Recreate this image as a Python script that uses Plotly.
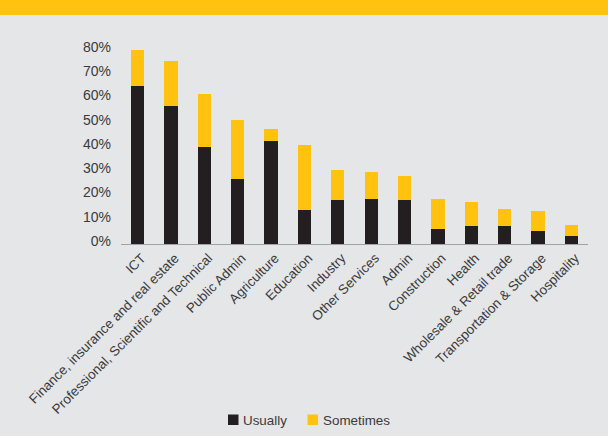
import plotly.graph_objects as go

# Share of workers in each sector, usually vs sometimes (percent)
sectors = [
    "ICT",
    "Finance, insurance and real estate",
    "Professional, Scientific and Technical",
    "Public Admin",
    "Agriculture",
    "Education",
    "Industry",
    "Other Services",
    "Admin",
    "Construction",
    "Health",
    "Wholesale & Retail trade",
    "Transportation & Storage",
    "Hospitality",
]
usually = [65, 57, 40, 27, 42.5, 14, 18, 18.5, 18, 6, 7.5, 7.5, 5.5, 3.5]
sometimes = [15, 18.5, 22, 24, 5, 27, 12.5, 11, 10, 12.5, 10, 7, 8, 4.5]
y_ticks = [0, 10, 20, 30, 40, 50, 60, 70, 80]

BLACK = "#231F20"
YELLOW = "#FFC20E"
BG = "#E5E6E8"
TEXT = "#3A3A3A"
FONT = "Liberation Sans, Arial, sans-serif"

W, H = 608, 436
M_L, M_R, M_T, M_B = 121, 20, 37, 192
PW = W - M_L - M_R
PH = H - M_T - M_B


def px(x):
    return (x - M_L) / PW


def py(y):
    return (H - M_B - y) / PH


fig = go.Figure()
fig.add_trace(go.Bar(x=sectors, y=usually, name="Usually",
                     marker=dict(color=BLACK, line=dict(width=0)), width=0.4))
fig.add_trace(go.Bar(x=sectors, y=sometimes, name="Sometimes",
                     marker=dict(color=YELLOW, line=dict(width=0)), width=0.4))

# header band
fig.add_shape(type="rect", xref="paper", yref="paper",
              x0=px(-5), x1=px(W + 5), y0=py(15), y1=py(-5),
              fillcolor=YELLOW, line=dict(width=0), layer="below")

# legend keys
legend_items = [("Usually", BLACK, 228), ("Sometimes", YELLOW, 307.5)]
for label, color, left in legend_items:
    fig.add_shape(type="rect", xref="paper", yref="paper",
                  x0=px(left), x1=px(left + 10.5), y0=py(425), y1=py(414.5),
                  fillcolor=color, line=dict(width=0))
    fig.add_annotation(text=label, xref="paper", yref="paper",
                       x=px(left + 14), y=py(420), xanchor="left", yanchor="middle",
                       xshift=-1, showarrow=False,
                       font=dict(family=FONT, size=13.4, color=TEXT))

fig.update_layout(
    barmode="stack",
    width=W, height=H,
    margin=dict(l=M_L, r=M_R, t=M_T, b=M_B, autoexpand=False),
    paper_bgcolor=BG, plot_bgcolor=BG,
    showlegend=False,
    font=dict(family=FONT, color=TEXT),
    xaxis=dict(
        range=[-0.5, len(sectors) - 0.5],
        showline=True, linecolor="#A3A3A5", linewidth=1,
        ticks="", tickangle=-45,
        tickfont=dict(family=FONT, size=13.4, color=TEXT),
        showgrid=False, zeroline=False,
        ticklabelshift=4,
    ),
    yaxis=dict(
        range=[0, PH / 2.425],
        tickvals=y_ticks,
        ticktext=[f"{v}%" for v in y_ticks],
        tickfont=dict(family=FONT, size=14, color=TEXT),
        showgrid=False, zeroline=False, showline=False,
        ticks="", ticklabelstandoff=9, ticklabelshift=-3,
    ),
)

fig.write_html("out.html")
